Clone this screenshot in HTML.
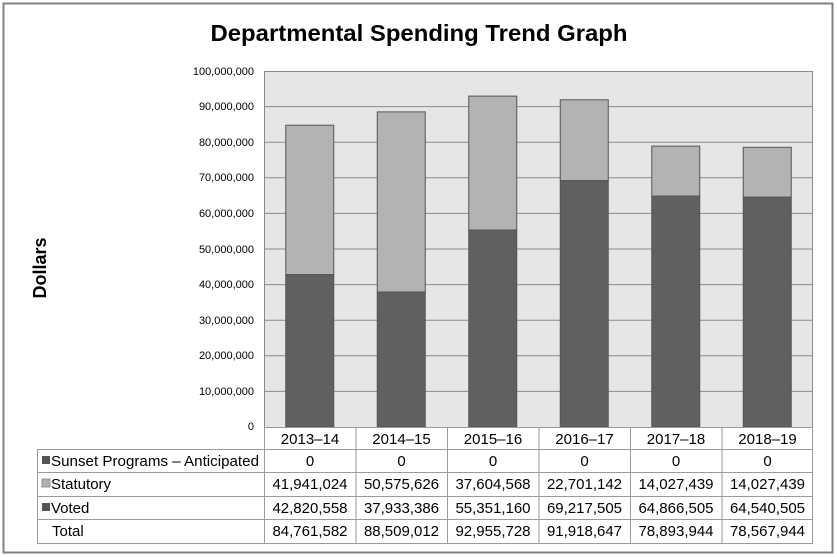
<!DOCTYPE html>
<html><head><meta charset="utf-8"><style>
html,body{margin:0;padding:0;background:#fff;}
svg{display:block;font-family:"Liberation Sans",Arial,sans-serif;}
</style></head><body>
<svg width="837" height="557" xmlns="http://www.w3.org/2000/svg">
<rect x="0" y="0" width="837" height="557" fill="#fff"/>
<rect x="3.5" y="3.5" width="829" height="549" fill="#fff" stroke="#808080" stroke-width="2"/>
<text x="419" y="41" font-size="23" font-weight="bold" text-anchor="middle" fill="#000" textLength="417" lengthAdjust="spacingAndGlyphs">Departmental Spending Trend Graph</text>
<text transform="translate(46,268) rotate(-90)" font-size="18" font-weight="bold" text-anchor="middle" fill="#000">Dollars</text>
<rect x="264" y="71" width="549" height="356" fill="#e6e6e6"/>
<g stroke="#8a8a8a" stroke-width="1">
<line x1="264" x2="813" y1="71.5" y2="71.5"/>
<line x1="264" x2="813" y1="106.6" y2="106.6"/>
<line x1="264" x2="813" y1="142.2" y2="142.2"/>
<line x1="264" x2="813" y1="177.8" y2="177.8"/>
<line x1="264" x2="813" y1="213.4" y2="213.4"/>
<line x1="264" x2="813" y1="249" y2="249"/>
<line x1="264" x2="813" y1="284.6" y2="284.6"/>
<line x1="264" x2="813" y1="320.2" y2="320.2"/>
<line x1="264" x2="813" y1="355.8" y2="355.8"/>
<line x1="264" x2="813" y1="391.4" y2="391.4"/>
<line x1="264.5" x2="264.5" y1="71" y2="427"/>
<line x1="812.5" x2="812.5" y1="71" y2="427"/>
</g>
<g font-size="11" fill="#000" text-anchor="end">
<text x="254" y="75">100,000,000</text>
<text x="254" y="110">90,000,000</text>
<text x="254" y="146">80,000,000</text>
<text x="254" y="181">70,000,000</text>
<text x="254" y="217">60,000,000</text>
<text x="254" y="253">50,000,000</text>
<text x="254" y="288">40,000,000</text>
<text x="254" y="324">30,000,000</text>
<text x="254" y="359">20,000,000</text>
<text x="254" y="395">10,000,000</text>
<text x="254" y="430">0</text>
</g>
<g stroke="#555" stroke-width="1">
<rect x="285.75" y="125.2" width="48" height="149.4" fill="#b3b3b3"/>
<rect x="285.75" y="274.6" width="48" height="152.4" fill="#606060"/>
<rect x="377.25" y="111.9" width="48" height="180.1" fill="#b3b3b3"/>
<rect x="377.25" y="292" width="48" height="135" fill="#606060"/>
<rect x="468.75" y="96.1" width="48" height="133.9" fill="#b3b3b3"/>
<rect x="468.75" y="230" width="48" height="197" fill="#606060"/>
<rect x="560.25" y="99.8" width="48" height="80.8" fill="#b3b3b3"/>
<rect x="560.25" y="180.6" width="48" height="246.4" fill="#606060"/>
<rect x="651.75" y="146.1" width="48" height="50" fill="#b3b3b3"/>
<rect x="651.75" y="196.1" width="48" height="230.9" fill="#606060"/>
<rect x="743.25" y="147.3" width="48" height="49.9" fill="#b3b3b3"/>
<rect x="743.25" y="197.2" width="48" height="229.8" fill="#606060"/>
</g>
<g stroke="#9a9a9a" stroke-width="1" fill="none">
<rect x="264.5" y="427.5" width="548" height="116"/>
<rect x="37.5" y="449.5" width="227" height="94"/>
<line x1="37" x2="813" y1="449.5" y2="449.5"/>
<line x1="37" x2="813" y1="472.5" y2="472.5"/>
<line x1="37" x2="813" y1="496.5" y2="496.5"/>
<line x1="37" x2="813" y1="519.5" y2="519.5"/>
<line x1="356" x2="356" y1="427" y2="544"/>
<line x1="447.5" x2="447.5" y1="427" y2="544"/>
<line x1="539" x2="539" y1="427" y2="544"/>
<line x1="630.5" x2="630.5" y1="427" y2="544"/>
<line x1="722" x2="722" y1="427" y2="544"/>
</g>
<rect x="42" y="456" width="8" height="8" fill="#555"/>
<rect x="42" y="479" width="8" height="8" fill="#b3b3b3" stroke="#777" stroke-width="0.7"/>
<rect x="42" y="503" width="8" height="8" fill="#555"/>
<g font-size="15" fill="#000">
<text x="51" y="466" textLength="208" lengthAdjust="spacingAndGlyphs">Sunset Programs – Anticipated</text>
<text x="51" y="489">Statutory</text>
<text x="51" y="513">Voted</text>
<text x="52" y="536">Total</text>
</g>
<g font-size="15" fill="#000" text-anchor="middle">
<text x="310" y="444">2013–14</text><text x="401.5" y="444">2014–15</text><text x="493" y="444">2015–16</text><text x="584.5" y="444">2016–17</text><text x="676" y="444">2017–18</text><text x="767.5" y="444">2018–19</text>
<text x="310" y="466">0</text><text x="401.5" y="466">0</text><text x="493" y="466">0</text><text x="584.5" y="466">0</text><text x="676" y="466">0</text><text x="767.5" y="466">0</text>
<text x="310" y="489">41,941,024</text><text x="401.5" y="489">50,575,626</text><text x="493" y="489">37,604,568</text><text x="584.5" y="489">22,701,142</text><text x="676" y="489">14,027,439</text><text x="767.5" y="489">14,027,439</text>
<text x="310" y="513">42,820,558</text><text x="401.5" y="513">37,933,386</text><text x="493" y="513">55,351,160</text><text x="584.5" y="513">69,217,505</text><text x="676" y="513">64,866,505</text><text x="767.5" y="513">64,540,505</text>
<text x="310" y="536">84,761,582</text><text x="401.5" y="536">88,509,012</text><text x="493" y="536">92,955,728</text><text x="584.5" y="536">91,918,647</text><text x="676" y="536">78,893,944</text><text x="767.5" y="536">78,567,944</text>
</g>
</svg>
</body></html>
